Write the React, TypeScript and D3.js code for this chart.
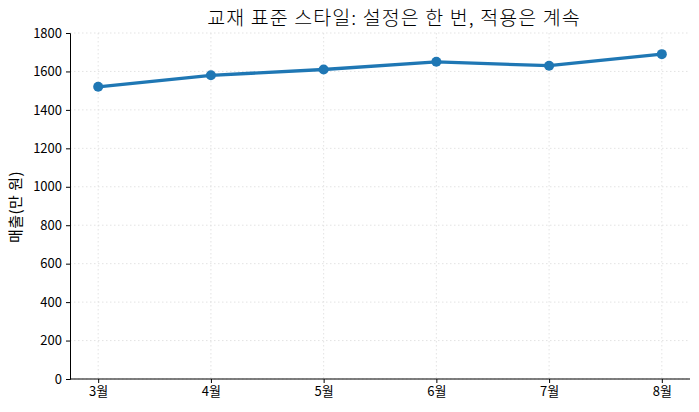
import React, { useEffect, useRef } from 'react';
import * as d3 from 'd3';

const months = ['3월', '4월', '5월', '6월', '7월', '8월'];
const sales = [1520, 1580, 1610, 1650, 1630, 1690];
const yTicks = [0, 200, 400, 600, 800, 1000, 1200, 1400, 1600, 1800];

const W = 699;
const H = 412;
const FONT = '"Noto Sans CJK KR", "Noto Sans", sans-serif';

const App: React.FC = () => {
    const ref = useRef<SVGSVGElement>(null);

    useEffect(() => {
        const svg = d3.select(ref.current);
        svg.selectAll('*').remove();

        const left = 70, right = 690, top = 33, bottom = 379;

        // categorical axis with matplotlib-like margins
        const x = d3.scaleLinear().domain([-0.25, months.length - 0.75]).range([left, right]);
        const y = d3.scaleLinear().domain([0, 1800]).range([bottom, top]);

        // grid
        const grid = svg.append('g');
        grid.selectAll('line.gx')
            .data(months)
            .enter()
            .append('line')
            .attr('x1', (_, i) => x(i))
            .attr('x2', (_, i) => x(i))
            .attr('y1', top)
            .attr('y2', bottom)
            .attr('stroke', '#dcdcdc')
            .attr('stroke-width', 0.8)
            .attr('stroke-dasharray', '1.5,2.5');
        grid.selectAll('line.gy')
            .data(yTicks)
            .enter()
            .append('line')
            .attr('x1', left)
            .attr('x2', right)
            .attr('y1', d => y(d))
            .attr('y2', d => y(d))
            .attr('stroke', '#dcdcdc')
            .attr('stroke-width', 0.8)
            .attr('stroke-dasharray', '1.5,2.5');

        // axes
        const yAxis = svg.append('g')
            .attr('transform', `translate(${left},0)`)
            .call(d3.axisLeft(y).tickValues(yTicks).tickSize(4).tickPadding(4).tickFormat(d3.format('d')));
        const xAxis = svg.append('g')
            .attr('transform', `translate(0,${bottom})`)
            .call(d3.axisBottom(x).tickValues(d3.range(months.length)).tickSize(4).tickPadding(4)
                .tickFormat((d) => months[d as number]));
        xAxis.select('.domain').attr('d', `M${left},0H${right}`);
        [xAxis, yAxis].forEach(a => {
            a.selectAll('text').style('font-family', FONT).style('font-size', '13px').attr('fill', '#000');
            a.select('.domain').attr('stroke', '#000').attr('stroke-width', 1);
            a.selectAll('.tick line').attr('stroke', '#000');
        });

        // line
        const line = d3.line<number>()
            .x((_, i) => x(i))
            .y(d => y(d));
        svg.append('path')
            .datum(sales)
            .attr('d', line)
            .attr('fill', 'none')
            .attr('stroke', '#1f77b4')
            .attr('stroke-width', 3.3)
            .attr('stroke-linejoin', 'round');
        svg.selectAll('circle')
            .data(sales)
            .enter()
            .append('circle')
            .attr('cx', (_, i) => x(i))
            .attr('cy', d => y(d))
            .attr('r', 5)
            .attr('fill', '#1f77b4');

        // title
        svg.append('text')
            .attr('x', 394)
            .attr('y', 25)
            .attr('text-anchor', 'middle')
            .style('font-family', FONT)
            .style('font-size', '19.5px')
            .style('font-weight', 300)
            .style('letter-spacing', '1.1px')
            .text('교재 표준 스타일: 설정은 한 번, 적용은 계속');

        // y label
        svg.append('text')
            .attr('transform', `translate(21,207) rotate(-90)`)
            .attr('text-anchor', 'middle')
            .style('font-family', FONT)
            .style('font-size', '15px')
            .style('letter-spacing', '0.5px')
            .text('매출(만 원)');
    }, []);

    return (
        <svg ref={ref} width={W} height={H} style={{ display: 'block', position: 'absolute', left: 0, top: 0, background: '#fff' }} />
    );
};

export default App;
